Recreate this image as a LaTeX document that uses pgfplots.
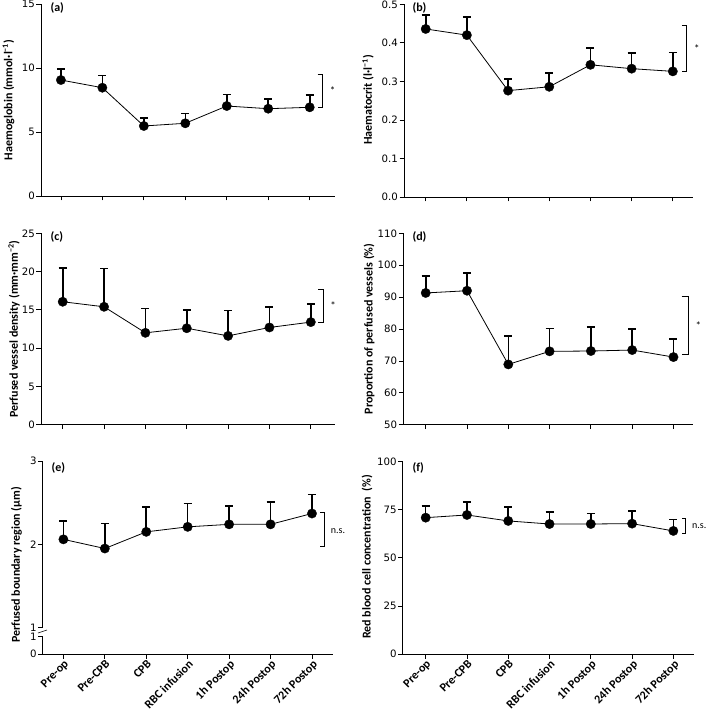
\documentclass[border=0pt]{standalone}
\usepackage{pgfplots}
\pgfplotsset{compat=1.18}
\usepackage{fontspec}
\setmainfont{Carlito}
\newfontfamily\tickfont{DejaVu Sans}

\pgfplotsset{
  panel/.style={
    scale only axis, clip=false,
    axis x line*=bottom, axis y line*=left,
    axis line style={line width=0.8pt,-},
    tick style={line width=0.8pt, black},
    tick align=outside, major tick length=4.5pt,
    xtick={0,...,6}, xticklabels={},
    /pgf/number format/assume math mode=true,
    yticklabel style={font=\tickfont\fontsize{10.2}{12}\selectfont, inner sep=1.5pt},
  },
  botx/.style={
    xticklabels={Pre-op,Pre-CPB,CPB,RBC infusion,1h Postop,24h Postop,72h Postop},
    xticklabel style={rotate=45, anchor=north east, font=\bfseries\fontsize{12}{13}\selectfont, inner sep=0.3pt},
  },
  ser/.style={black, line width=0.8pt, mark=*, mark size=4.7pt,
    mark options={solid, fill=black, line width=0.3pt},
    error bars/.cd, y dir=plus, y explicit,
    error bar style={line width=1.6pt},
    error mark options={rotate=90, line width=1.6pt, mark size=4pt}},
}
\newcommand{\lab}{\bfseries\fontsize{12}{14}\selectfont}

\begin{document}
\begin{tikzpicture}
\useasboundingbox (0,0) rectangle (709pt,713pt);

% (a)
\begin{axis}[panel, at={(41pt,517pt)}, anchor=south west, width=294pt, height=192pt,
  xmin=-0.48, xmax=6.61, ymin=0, ymax=15, ytick={0,5,10,15}]
\addplot[ser] table[x=x,y=y,y error=e]{
x y e
0 9.06 0.84
1 8.46 0.94
2 5.47 0.63
3 5.68 0.78
4 7.03 0.91
5 6.82 0.78
6 6.93 0.97
};
\draw[line width=0.8pt] (axis cs:6.19,9.53) -- (axis cs:6.31,9.53) -- (axis cs:6.31,6.95) -- (axis cs:6.19,6.95);
\node[anchor=west, font=\fontsize{11}{12}\selectfont] at (axis cs:6.40,8.24) {*};
\end{axis}

% (b)
\begin{axis}[panel, at={(404pt,516pt)}, anchor=south west, width=289pt, height=192.7pt,
  xmin=-0.527, xmax=6.49, ymin=0, ymax=0.5, ytick={0,0.1,0.2,0.3,0.4,0.5},
  yticklabel style={/pgf/number format/.cd, fixed, fixed zerofill, precision=1}]
\addplot[ser] table[x=x,y=y,y error=e]{
x y e
0 0.436 0.036
1 0.420 0.047
2 0.276 0.030
3 0.286 0.036
4 0.343 0.043
5 0.333 0.040
6 0.326 0.049
};
\draw[line width=0.8pt] (axis cs:6.22,0.445) -- (axis cs:6.34,0.445) -- (axis cs:6.34,0.326) -- (axis cs:6.22,0.326);
\node[anchor=west, font=\fontsize{11}{12}\selectfont] at (axis cs:6.43,0.386) {*};
\end{axis}

% (c)
\begin{axis}[panel, at={(41pt,288.3pt)}, anchor=south west, width=294pt, height=191.4pt,
  xmin=-0.525, xmax=6.585, ymin=0, ymax=25, ytick={0,5,10,15,20,25}]
\addplot[ser] table[x=x,y=y,y error=e]{
x y e
0 16.06 4.44
1 15.40 5.00
2 12.00 3.20
3 12.60 2.40
4 11.60 3.30
5 12.70 2.70
6 13.40 2.35
};
\draw[line width=0.8pt] (axis cs:6.18,17.7) -- (axis cs:6.30,17.7) -- (axis cs:6.30,13.4) -- (axis cs:6.18,13.4);
\node[anchor=west, font=\fontsize{11}{12}\selectfont] at (axis cs:6.39,15.55) {*};
\end{axis}

% (d)
\begin{axis}[panel, at={(403.3pt,288.3pt)}, anchor=south west, width=290pt, height=191.4pt,
  xmin=-0.543, xmax=6.48, ymin=50, ymax=110, ytick={50,60,70,80,90,100,110}]
\addplot[ser] table[x=x,y=y,y error=e]{
x y e
0 91.3 5.4
1 92.0 5.6
2 68.9 9.0
3 73.0 7.1
4 73.1 7.6
5 73.4 6.6
6 71.2 5.6
};
\draw[line width=0.8pt] (axis cs:6.20,90.3) -- (axis cs:6.36,90.3) -- (axis cs:6.36,72) -- (axis cs:6.20,72);
\node[anchor=west, font=\fontsize{11}{12}\selectfont] at (axis cs:6.45,81.2) {*};
\end{axis}

% (e) upper
\begin{axis}[panel, at={(42.7pt,85.3pt)}, anchor=south west, width=290pt, height=166.7pt,
  axis x line=none,
  xmin=-0.5, xmax=6.5, ymin=1, ymax=3, ytick={1,2,3}]
\addplot[ser] table[x=x,y=y,y error=e]{
x y e
0 2.06 0.22
1 1.95 0.30
2 2.15 0.30
3 2.21 0.28
4 2.24 0.22
5 2.24 0.27
6 2.37 0.23
};
\draw[line width=0.8pt] (axis cs:6.20,2.38) -- (axis cs:6.30,2.38) -- (axis cs:6.30,1.98) -- (axis cs:6.20,1.98);
\node[anchor=west, font=\fontsize{10}{12}\selectfont] at (axis cs:6.37,2.16) {n.s.};
\end{axis}
% (e) lower
\begin{axis}[panel, botx, at={(42.7pt,59pt)}, anchor=south west, width=290pt, height=17.3pt,
  xmin=-0.5, xmax=6.5, ymin=0, ymax=1, ytick={0,1}]
\end{axis}
\draw[line width=0.6pt] (38pt,80pt) -- (47pt,83pt);

% (f)
\begin{axis}[panel, botx, at={(402.7pt,59pt)}, anchor=south west, width=291.3pt, height=192.3pt,
  xmin=-0.557, xmax=6.50, ymin=0, ymax=100, ytick={0,25,50,75,100}]
\addplot[ser] table[x=x,y=y,y error=e]{
x y e
0 70.9 6.1
1 72.3 6.7
2 69.2 7.1
3 67.6 6.2
4 67.6 5.4
5 67.8 6.6
6 64.0 6.0
};
\draw[line width=0.8pt] (axis cs:6.22,70.6) -- (axis cs:6.30,70.6) -- (axis cs:6.30,62.8) -- (axis cs:6.22,62.8);
\node[anchor=west, font=\fontsize{10}{12}\selectfont] at (axis cs:6.37,66.5) {n.s.};
\end{axis}

% panel letters
\node[anchor=west, font=\lab] at (47pt,705pt) {(a)};
\node[anchor=west, font=\lab] at (409pt,705.5pt) {(b)};
\node[anchor=west, font=\lab] at (47pt,476pt) {(c)};
\node[anchor=west, font=\lab] at (409pt,476pt) {(d)};
\node[anchor=west, font=\lab] at (48pt,245.5pt) {(e)};
\node[anchor=west, font=\lab] at (409pt,245.5pt) {(f)};

% y labels
\node[rotate=90, font=\lab] at (8.5pt,613pt) {Haemoglobin (mmol·l\textsuperscript{−1})};
\node[rotate=90, font=\lab] at (368pt,613pt) {Haematocrit (l·l\textsuperscript{−1})};
\node[rotate=90, font=\lab] at (14pt,384pt) {Perfused vessel density (mm·mm\textsuperscript{−2})};
\node[rotate=90, font=\lab] at (369pt,384pt) {Proportion of perfused vessels (\%)};
\node[rotate=90, font=\lab] at (16.5pt,148pt) {Perfused boundary region (μm)};
\node[rotate=90, font=\lab] at (367pt,156pt) {Red blood cell concentration~~(\%)};
\end{tikzpicture}
\end{document}
